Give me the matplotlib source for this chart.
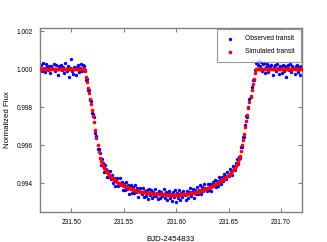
import numpy as np
import matplotlib.pyplot as plt

plt.rcParams['font.family'] = ['Liberation Sans', 'DejaVu Sans']

# time stamps (BJD - 2454833)
bjd = [231.470, 231.471, 231.472, 231.473, 231.474, 231.475, 231.476, 231.477, 231.478, 231.479,
       231.480, 231.481, 231.482, 231.483, 231.484, 231.485, 231.486, 231.487, 231.488, 231.489,
       231.490, 231.491, 231.492, 231.493, 231.494, 231.495, 231.496, 231.497, 231.498, 231.499,
       231.500, 231.501, 231.502, 231.503, 231.504, 231.505, 231.506, 231.507, 231.508, 231.509,
       231.510, 231.511, 231.512, 231.513, 231.514, 231.515, 231.516, 231.517, 231.518, 231.519,
       231.520, 231.521, 231.522, 231.523, 231.524, 231.525, 231.526, 231.527, 231.528, 231.529,
       231.530, 231.531, 231.532, 231.533, 231.534, 231.535, 231.536, 231.537, 231.538, 231.539,
       231.540, 231.541, 231.542, 231.543, 231.544, 231.545, 231.546, 231.547, 231.548, 231.549,
       231.550, 231.551, 231.552, 231.553, 231.554, 231.555, 231.556, 231.557, 231.558, 231.559,
       231.560, 231.561, 231.562, 231.563, 231.564, 231.565, 231.566, 231.567, 231.568, 231.569,
       231.570, 231.571, 231.572, 231.573, 231.574, 231.575, 231.576, 231.577, 231.578, 231.579,
       231.580, 231.581, 231.582, 231.583, 231.584, 231.585, 231.586, 231.587, 231.588, 231.589,
       231.590, 231.591, 231.592, 231.593, 231.594, 231.595, 231.596, 231.597, 231.598, 231.599,
       231.600, 231.601, 231.602, 231.603, 231.604, 231.605, 231.606, 231.607, 231.608, 231.609,
       231.610, 231.611, 231.612, 231.613, 231.614, 231.615, 231.616, 231.617, 231.618, 231.619,
       231.620, 231.621, 231.622, 231.623, 231.624, 231.625, 231.626, 231.627, 231.628, 231.629,
       231.630, 231.631, 231.632, 231.633, 231.634, 231.635, 231.636, 231.637, 231.638, 231.639,
       231.640, 231.641, 231.642, 231.643, 231.644, 231.645, 231.646, 231.647, 231.648, 231.649,
       231.650, 231.651, 231.652, 231.653, 231.654, 231.655, 231.656, 231.657, 231.658, 231.659,
       231.660, 231.661, 231.662, 231.663, 231.664, 231.665, 231.666, 231.667, 231.668, 231.669,
       231.670, 231.671, 231.672, 231.673, 231.674, 231.675, 231.676, 231.677, 231.678, 231.679,
       231.680, 231.681, 231.682, 231.683, 231.684, 231.685, 231.686, 231.687, 231.688, 231.689,
       231.690, 231.691, 231.692, 231.693, 231.694, 231.695, 231.696, 231.697, 231.698, 231.699,
       231.700, 231.701, 231.702, 231.703, 231.704, 231.705, 231.706, 231.707, 231.708, 231.709,
       231.710, 231.711, 231.712, 231.713, 231.714, 231.715, 231.716, 231.717, 231.718, 231.719,
       231.720]

# observed flux, offset from 1 in ppm
obs_ppm = [120, 210, -80, 330, 60, -150, 250, 90, -40, 180,
           -200, 140, 40, 270, -110, 200, 30, -310, 160, 80,
           230, -60, 110, -190, 300, 20, -120, 170, -420, 60,
           540, -80, -240, 130, -330, 90, 210, -150, 40, 250,
           -90, 220, 160, -20, -560, -500, -1120, -1100, -1610, -1660,
           -2290, -2340, -2540, -3380, -3510, -4220, -4190, -4420, -5050, -4700,
           -4950, -5420, -5050, -5260, -5690, -5340, -5660, -5340, -5750, -5540,
           -5990, -5710, -6160, -5830, -5710, -6120, -5710, -6100, -5940, -6360,
           -6050, -6340, -5950, -6310, -6080, -6590, -6220, -6100, -6530, -6220,
           -6510, -6110, -6460, -6260, -6710, -6400, -6260, -6570, -6230, -6720,
           -6410, -6680, -6380, -6820, -6320, -6610, -6370, -6770, -6460, -6690,
           -6320, -6660, -6520, -6850, -6400, -6750, -6470, -6650, -6310, -6800,
           -6470, -6860, -6540, -6390, -6760, -6590, -6940, -6450, -6700, -6370,
           -6990, -6530, -6780, -6370, -6860, -6490, -6720, -6390, -6630, -6860,
           -6410, -6770, -6450, -6270, -6690, -6470, -6300, -6800, -6350, -6540,
           -6200, -6570, -6360, -6080, -6580, -6190, -6430, -6040, -6270, -6430,
           -6040, -6340, -6050, -6420, -6070, -5930, -6150, -5830, -6220, -5890,
           -6120, -5680, -5850, -6060, -5650, -5870, -5520, -5600, -5770, -5410,
           -5610, -5260, -5360, -5550, -5110, -5220, -5310, -4940, -4740, -4990,
           -4600, -4660, -4100, -4070, -3570, -3580, -2960, -2480, -2540, -1990,
           -1580, -1490, -960, -550, -560, -20, 310, 380, 220, 440,
           150, 400, -80, 260, 320, -210, 100, 270, -150, 190,
           60, 240, -330, 130, 210, -120, 280, 40, -260, 170,
           90, -180, 230, -90, 150, -420, 120, 200, -50, 260,
           -130, 180, 60, -240, 150, 220, -170, 90, -330, 140,
           60]

# simulated (model) flux, offset from 1 in ppm
sim_ppm = [0, 0, 0, 0, 0, 0, 0, 0, 0, 0,
           0, 0, 0, 0, 0, 0, 0, 0, 0, 0,
           0, 0, 0, 0, 0, 0, 0, 0, 0, 0,
           0, 0, 0, 0, 0, 0, 0, 0, 0, 0,
           0, 0, 0, -100, -400, -700, -1000, -1250, -1550, -1850,
           -2150, -2450, -2800, -3200, -3600, -4000, -4350, -4650, -4850, -5000,
           -5100, -5180, -5260, -5340, -5410, -5480, -5540, -5600, -5660, -5710,
           -5760, -5810, -5850, -5890, -5930, -5970, -6010, -6040, -6070, -6100,
           -6130, -6160, -6190, -6210, -6230, -6250, -6270, -6290, -6310, -6330,
           -6350, -6370, -6390, -6400, -6420, -6430, -6440, -6450, -6460, -6470,
           -6480, -6490, -6500, -6510, -6520, -6530, -6530, -6540, -6550, -6550,
           -6560, -6560, -6570, -6570, -6580, -6580, -6580, -6590, -6590, -6590,
           -6600, -6600, -6600, -6600, -6610, -6610, -6610, -6610, -6610, -6610,
           -6610, -6600, -6600, -6600, -6590, -6590, -6580, -6580, -6570, -6560,
           -6560, -6550, -6540, -6530, -6520, -6510, -6500, -6490, -6470, -6460,
           -6450, -6440, -6420, -6400, -6380, -6360, -6340, -6320, -6300, -6270,
           -6250, -6230, -6200, -6180, -6150, -6120, -6090, -6060, -6040, -6010,
           -5980, -5940, -5900, -5860, -5820, -5780, -5740, -5700, -5650, -5600,
           -5550, -5500, -5440, -5380, -5320, -5250, -5180, -5100, -5010, -4900,
           -4750, -4550, -4300, -4000, -3700, -3400, -3050, -2700, -2400, -2050,
           -1750, -1400, -1100, -800, -500, -200, 0, 0, 0, 0,
           0, 0, 0, 0, 0, 0, 0, 0, 0, 0,
           0, 0, 0, 0, 0, 0, 0, 0, 0, 0,
           0, 0, 0, 0, 0, 0, 0, 0, 0, 0,
           0, 0, 0, 0, 0, 0, 0, 0, 0, 0,
           0]

x_ticks = [231.50, 231.55, 231.60, 231.65, 231.70]
y_ticks = [0.994, 0.996, 0.998, 1.000, 1.002]

t = np.array(bjd)
obs = 1 + np.array(obs_ppm) / 1e6
sim = 1 + np.array(sim_ppm) / 1e6

fig = plt.figure(figsize=(3.27, 2.42), dpi=100)
ax = fig.add_axes([0.1223, 0.124, 0.8012, 0.76])

ax.scatter(t, obs, s=6, color='#0000ff', linewidths=0, label='Observed transit', zorder=2)
ax.scatter(t, sim, s=7, color='#ff0000', linewidths=0, label='Simulated transit', zorder=3)

ax.set_xlim(231.4701, 231.7201)
ax.set_ylim(0.99249, 1.00216)
ax.set_xticks(x_ticks)
ax.set_xticklabels(['%.2f' % v for v in x_ticks])
ax.set_yticks(y_ticks)
ax.set_yticklabels(['%.3f' % v for v in y_ticks])
ax.tick_params(direction='in', length=3, width=0.8, color='#808080',
               labelsize=4.7, top=True, right=True, pad=5)
for sp in ax.spines.values():
    sp.set_color('#808080')
    sp.set_linewidth(1.0)

ax.set_xlabel('BJD-2454833', fontsize=5.7, labelpad=7)
ax.set_ylabel('Normalized Flux', fontsize=5.7, labelpad=4)

leg = ax.legend(loc='upper right', fontsize=4.8, frameon=True, fancybox=False,
                edgecolor='#808080', markerscale=1.0, handletextpad=1.2,
                borderaxespad=0.1, borderpad=1.0, labelspacing=0.9)
leg.get_frame().set_linewidth(0.8)

fig.savefig('out.png', dpi=100)
